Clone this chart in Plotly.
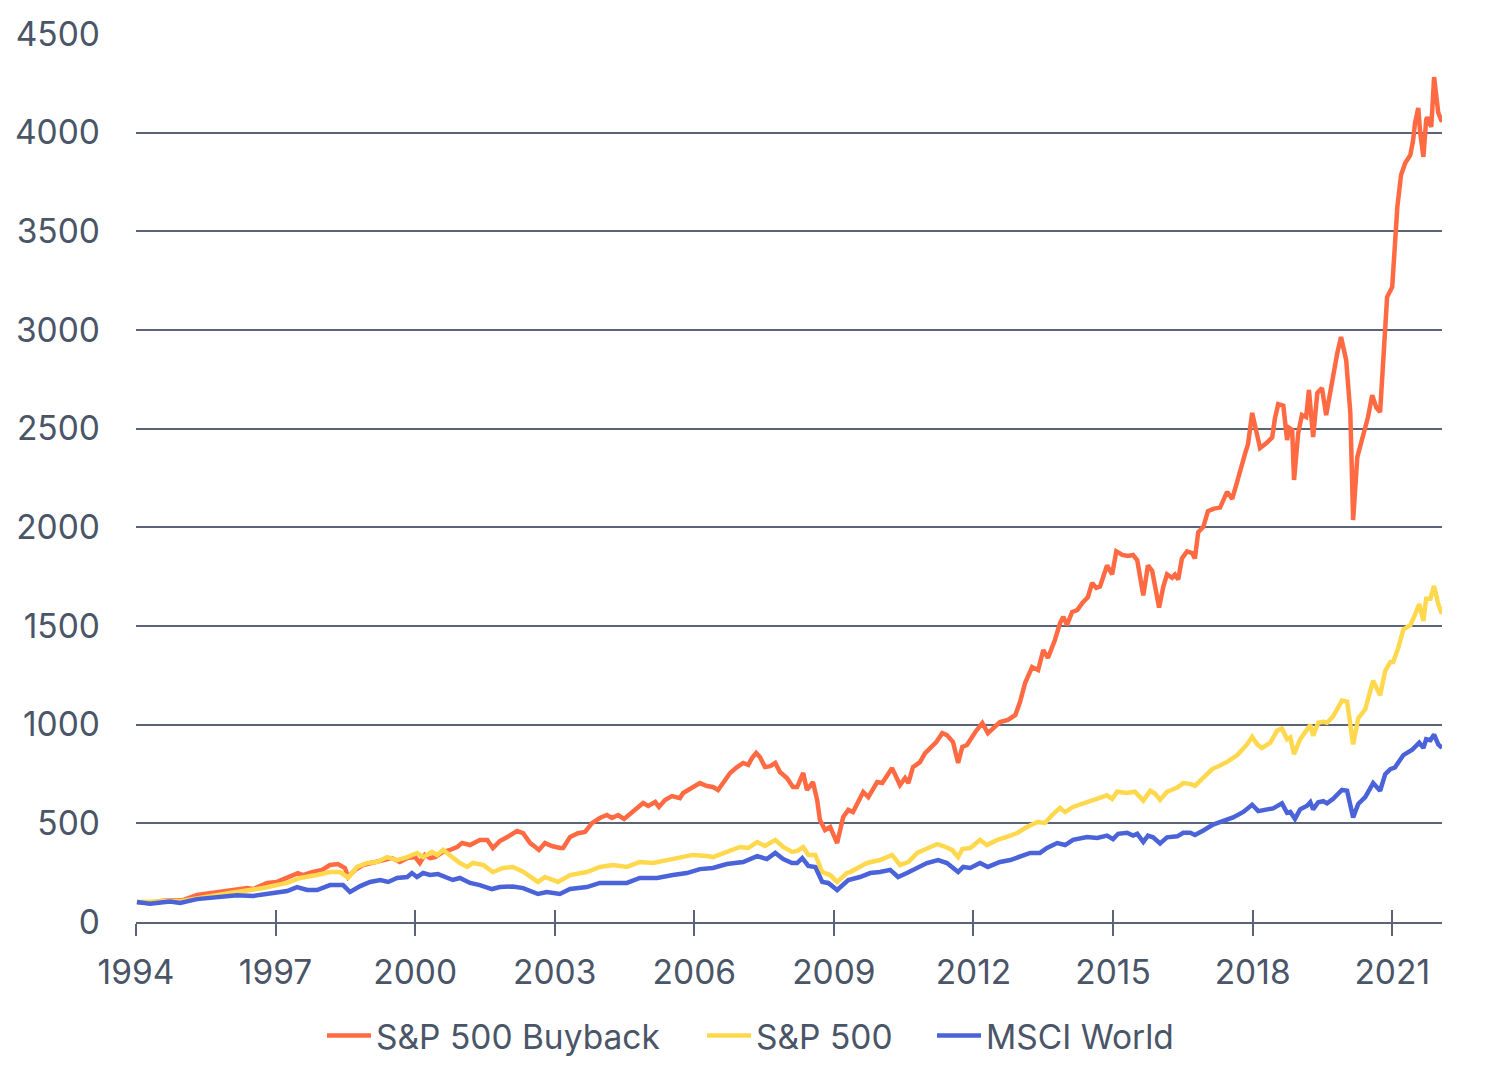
import plotly.graph_objects as go

# ---- Data ----
buyback_t = [1994.02,1994.30,1994.58,1995.01,1995.31,1995.66,1996.02,1996.39,1996.52,1996.82,1997.03,1997.25,1997.48,1997.59,1997.78,1998.00,1998.17,1998.34,1998.49,1998.56,1998.71,1998.88,1999.09,1999.31,1999.50,1999.67,1999.83,2000.00,2000.10,2000.21,2000.32,2000.43,2000.60,2000.75,2000.90,2001.01,2001.18,2001.39,2001.55,2001.67,2001.82,2001.98,2002.19,2002.32,2002.47,2002.53,2002.66,2002.79,2002.94,2003.11,2003.18,2003.33,2003.50,2003.65,2003.80,2003.97,2004.12,2004.23,2004.36,2004.49,2004.68,2004.90,2005.01,2005.16,2005.24,2005.37,2005.52,2005.69,2005.76,2005.95,2006.12,2006.27,2006.40,2006.51,2006.62,2006.77,2006.92,2007.05,2007.16,2007.24,2007.33,2007.41,2007.52,2007.63,2007.74,2007.84,2007.99,2008.12,2008.21,2008.34,2008.42,2008.55,2008.64,2008.70,2008.81,2008.92,2009.07,2009.20,2009.31,2009.41,2009.63,2009.74,2009.93,2010.04,2010.25,2010.42,2010.53,2010.60,2010.70,2010.85,2010.96,2011.07,2011.20,2011.33,2011.43,2011.56,2011.67,2011.76,2011.86,2012.04,2012.19,2012.31,2012.42,2012.57,2012.74,2012.90,2013.00,2013.11,2013.26,2013.39,2013.50,2013.60,2013.75,2013.86,2013.93,2014.01,2014.12,2014.23,2014.34,2014.46,2014.55,2014.64,2014.72,2014.79,2014.87,2014.98,2015.07,2015.20,2015.32,2015.43,2015.52,2015.65,2015.75,2015.84,2015.99,2016.08,2016.16,2016.27,2016.33,2016.40,2016.48,2016.59,2016.70,2016.76,2016.83,2016.94,2017.04,2017.17,2017.30,2017.45,2017.56,2017.67,2017.73,2017.84,2017.90,2017.99,2018.10,2018.16,2018.31,2018.42,2018.48,2018.55,2018.66,2018.74,2018.79,2018.85,2018.89,2018.98,2019.06,2019.15,2019.21,2019.30,2019.39,2019.49,2019.58,2019.67,2019.73,2019.82,2019.90,2020.01,2020.10,2020.16,2020.25,2020.35,2020.44,2020.48,2020.57,2020.66,2020.74,2020.81,2020.85,2020.89,2021.00,2021.06,2021.11,2021.19,2021.28,2021.39,2021.45,2021.49,2021.56,2021.60,2021.67,2021.73,2021.75,2021.84,2021.90,2021.99,2022.07]
buyback_v = [100,96,108,111,137,147,162,172,167,198,203,223,248,238,253,264,289,294,274,228,264,289,299,314,324,304,324,329,299,340,324,329,355,365,380,400,390,416,416,375,410,431,461,450,400,390,365,400,385,375,375,431,450,456,501,527,542,527,542,522,557,603,588,608,583,618,638,628,654,679,704,689,684,669,704,755,785,806,796,831,857,836,785,790,806,760,730,684,684,755,669,709,618,517,466,481,400,532,568,557,659,633,709,704,780,694,730,704,785,810,856,882,912,957,947,912,806,887,897,963,1008,957,983,1013,1024,1049,1115,1211,1292,1277,1378,1338,1429,1515,1546,1505,1571,1581,1617,1647,1718,1693,1700,1759,1807,1762,1878,1860,1855,1860,1833,1655,1807,1780,1593,1700,1762,1744,1760,1735,1842,1878,1869,1842,1975,2002,2082,2095,2100,2180,2144,2233,2290,2376,2420,2580,2464,2402,2430,2456,2553,2624,2616,2442,2503,2493,2240,2478,2569,2559,2696,2458,2681,2706,2569,2696,2747,2884,2965,2848,2579,2037,2356,2442,2508,2559,2670,2605,2584,2848,3015,3167,3218,3441,3623,3786,3846,3887,3963,4049,4125,4003,3877,4064,4079,4029,4282,4100,4054]

sp500_t = [1994.02,1994.58,1995.01,1996.02,1996.73,1997.25,1997.53,1997.89,1998.17,1998.39,1998.56,1998.75,1998.97,1999.18,1999.40,1999.61,1999.83,2000.04,2000.17,2000.36,2000.47,2000.60,2000.79,2000.96,2001.12,2001.24,2001.46,2001.67,2001.89,2002.10,2002.32,2002.47,2002.64,2002.79,2003.07,2003.33,2003.69,2003.97,2004.25,2004.55,2004.83,2005.11,2005.41,2005.69,2005.97,2006.27,2006.40,2006.70,2006.98,2007.16,2007.35,2007.52,2007.74,2007.91,2008.10,2008.21,2008.34,2008.45,2008.60,2008.75,2008.92,2009.07,2009.28,2009.35,2009.56,2009.71,2009.99,2010.25,2010.42,2010.60,2010.79,2011.00,2011.22,2011.35,2011.54,2011.67,2011.76,2011.93,2012.14,2012.29,2012.51,2012.72,2012.94,2013.15,2013.37,2013.54,2013.69,2013.86,2013.97,2014.14,2014.44,2014.66,2014.87,2014.98,2015.09,2015.30,2015.47,2015.65,2015.80,2015.90,2016.01,2016.16,2016.38,2016.51,2016.66,2016.76,2016.94,2017.13,2017.30,2017.47,2017.67,2017.88,2017.99,2018.10,2018.20,2018.38,2018.53,2018.63,2018.74,2018.81,2018.89,2019.02,2019.13,2019.24,2019.30,2019.41,2019.52,2019.60,2019.73,2019.92,2020.03,2020.16,2020.27,2020.42,2020.59,2020.74,2020.85,2020.96,2021.02,2021.13,2021.24,2021.39,2021.49,2021.58,2021.67,2021.73,2021.82,2021.90,2021.99,2022.07]
sp500_v = [101,103,108,147,172,198,223,238,253,253,225,279,299,304,329,314,329,350,329,355,340,365,329,299,279,299,289,253,274,279,255,230,203,228,203,238,253,279,289,279,304,299,314,324,340,334,329,355,380,375,405,385,416,380,355,360,380,340,340,253,238,203,248,253,279,299,314,340,289,304,350,375,395,385,365,329,370,375,416,390,416,431,451,481,507,502,542,578,557,583,608,628,642,624,660,654,660,615,665,651,619,660,681,704,700,690,731,775,793,814,846,900,939,900,882,909,971,980,926,935,850,926,962,998,944,1010,1015,1010,1042,1122,1117,900,1033,1078,1223,1149,1273,1318,1318,1389,1483,1504,1558,1611,1526,1638,1638,1703,1611,1561]

msci_t = [1994.02,1994.30,1994.73,1994.95,1995.31,1995.74,1996.17,1996.52,1996.88,1997.25,1997.46,1997.68,1997.89,1998.17,1998.45,1998.60,1998.82,1999.03,1999.25,1999.42,1999.61,1999.83,1999.93,2000.04,2000.17,2000.32,2000.49,2000.69,2000.81,2000.96,2001.18,2001.39,2001.65,2001.82,2002.10,2002.32,2002.47,2002.64,2002.83,2003.11,2003.33,2003.69,2003.97,2004.25,2004.55,2004.83,2005.20,2005.54,2005.84,2006.12,2006.40,2006.70,2007.05,2007.35,2007.56,2007.74,2007.91,2008.10,2008.21,2008.32,2008.45,2008.60,2008.75,2008.88,2009.07,2009.31,2009.56,2009.78,2009.99,2010.21,2010.38,2010.57,2010.79,2011.00,2011.24,2011.43,2011.67,2011.78,2011.93,2012.14,2012.31,2012.57,2012.79,2013.00,2013.22,2013.43,2013.58,2013.80,2013.97,2014.14,2014.44,2014.66,2014.87,2015.00,2015.11,2015.30,2015.43,2015.52,2015.65,2015.75,2015.86,2016.01,2016.16,2016.38,2016.51,2016.66,2016.76,2016.94,2017.15,2017.37,2017.58,2017.80,2017.99,2018.12,2018.31,2018.44,2018.63,2018.74,2018.81,2018.91,2019.02,2019.17,2019.24,2019.30,2019.41,2019.52,2019.60,2019.73,2019.92,2020.03,2020.16,2020.27,2020.42,2020.59,2020.74,2020.85,2020.96,2021.06,2021.24,2021.43,2021.58,2021.67,2021.73,2021.82,2021.90,2021.99,2022.07]
msci_v = [101,93,104,96,116,124,135,132,142,157,177,162,162,187,187,152,182,203,213,203,223,228,248,228,248,238,243,223,213,223,198,187,167,177,180,172,157,142,152,142,167,177,198,198,198,223,223,238,248,268,274,294,304,334,319,350,319,299,299,324,284,279,203,198,162,213,228,248,253,264,228,248,274,299,314,299,253,279,274,299,279,304,314,329,350,350,375,400,390,416,431,426,438,420,447,452,438,447,406,438,429,398,429,434,452,452,441,464,494,512,530,558,594,562,571,576,601,553,558,523,571,589,607,571,607,612,601,624,669,665,530,598,633,704,665,749,775,784,846,873,909,882,926,921,950,900,882]

series_names = ["S&P 500 Buyback", "S&P 500", "MSCI World"]
x_tickvals = [1994, 1997, 2000, 2003, 2006, 2009, 2012, 2015, 2018, 2021]
y_tickvals = [0, 500, 1000, 1500, 2000, 2500, 3000, 3500, 4000, 4500]

COLORS = ["#FF6A43", "#FFD84D", "#4A63D8"]
AXIS_COL = "#5B6477"
TEXT_COL = "#4A5568"
FONT = "Inter"
FS = 33.5

fig = go.Figure()
legend_ids = ["legend", "legend2", "legend3"]
for name, t, v, c, lg in zip(series_names, [buyback_t, sp500_t, msci_t],
                             [buyback_v, sp500_v, msci_v], COLORS, legend_ids):
    fig.add_trace(go.Scatter(x=t, y=v, mode="lines", name=name, legend=lg,
                             line=dict(color=c, width=4.5)))
# invisible trace to host the second x-axis (upper half of cross ticks)
fig.add_trace(go.Scatter(x=[buyback_t[0]], y=[buyback_v[0]], xaxis="x2",
                         mode="markers", marker=dict(opacity=0),
                         showlegend=False, hoverinfo="skip"))

xr = [1994, buyback_t[-1]]
PLOT_W = 1306


def leg(page_x):
    return dict(orientation="h", x=(page_x - 136) / PLOT_W, xanchor="left",
                y=-0.128, yanchor="middle", font=dict(size=FS, color=TEXT_COL),
                itemwidth=44, bgcolor="rgba(0,0,0,0)", borderwidth=0)


fig.update_layout(
    width=1494, height=1072,
    margin=dict(l=128, r=60, t=26, b=158, autoexpand=False),
    paper_bgcolor="white", plot_bgcolor="white",
    font=dict(family=FONT, size=FS, color=TEXT_COL),
    showlegend=True,
    legend=leg(322), legend2=leg(702), legend3=leg(932),
    xaxis=dict(range=xr, tickmode="array", tickvals=x_tickvals, automargin=False,
               showgrid=False, zeroline=False, showline=True,
               linecolor=AXIS_COL, linewidth=2,
               ticks="outside", ticklen=12, tickwidth=2, tickcolor=AXIS_COL,
               ticklabelstandoff=8,
               tickfont=dict(size=FS, color=TEXT_COL)),
    xaxis2=dict(range=xr, overlaying="x", tickmode="array", tickvals=x_tickvals,
                showgrid=False, zeroline=False, showline=False, automargin=False,
                ticks="inside", ticklen=12, tickwidth=2, tickcolor=AXIS_COL,
                showticklabels=False, side="bottom", anchor="y"),
    yaxis=dict(range=[0, 4500], tickmode="array", tickvals=y_tickvals,
               automargin=False,
               showgrid=True, gridcolor=AXIS_COL, gridwidth=1.5,
               zeroline=False, showline=False, ticks="",
               ticklabelstandoff=35,
               tickfont=dict(size=FS, color=TEXT_COL)),
)

fig.write_html("out.html")
